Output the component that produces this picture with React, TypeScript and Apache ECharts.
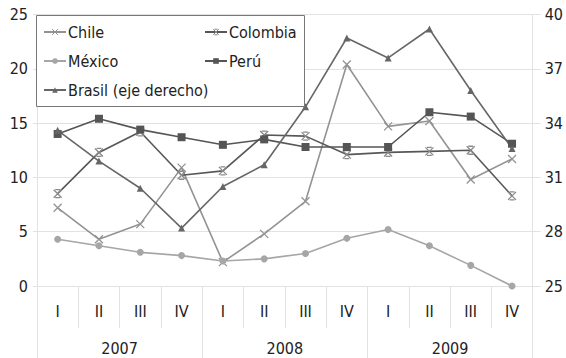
import React, { useEffect, useRef } from "react";
import * as echarts from "echarts";

const quarters = ["I", "II", "III", "IV", "I", "II", "III", "IV", "I", "II", "III", "IV"];
const years = ["2007", "2008", "2009"];
const chile = [7.2, 4.3, 5.7, 10.9, 2.2, 4.8, 7.8, 20.4, 14.7, 15.2, 9.8, 11.7];
const colombia = [8.5, 12.3, 14.2, 10.2, 10.6, 13.9, 13.8, 12.1, 12.3, 12.4, 12.5, 8.3];
const mexico = [4.3, 3.7, 3.1, 2.8, 2.3, 2.5, 3.0, 4.4, 5.2, 3.7, 1.9, 0.0];
const peru = [14.0, 15.4, 14.4, 13.7, 13.0, 13.5, 12.8, 12.8, 12.8, 16.0, 15.6, 13.1];
const brasil = [33.6, 31.9, 30.4, 28.2, 30.5, 31.7, 34.9, 38.7, 37.6, 39.2, 35.8, 32.6];

const FONT = "'Liberation Sans Narrow', 'DejaVu Sans Condensed', 'Noto Sans', sans-serif";
const TXT = "#222";
const GRID = "#e2e2e2";

const xSym = "path://M0,0L10,10M10,0L0,10";
const xBarSym = "path://M2,0L8,0M2,10L8,10M0,0L10,10M10,0L0,10";

export default function App() {
  const ref = useRef<HTMLDivElement>(null);
  useEffect(() => {
    if (!ref.current) return;
    const chart = echarts.init(ref.current, null, { renderer: "svg" });
    const lineSeries = (
      name: string,
      data: number[],
      color: string,
      symbol: string,
      size: number,
      yIdx = 0,
      strokeColor: string | null = null
    ) => ({
      name,
      type: "line",
      data,
      yAxisIndex: yIdx,
      symbol,
      symbolSize: size,
      showSymbol: true,
      lineStyle: { color, width: 1.6 },
      itemStyle: strokeColor
        ? { color: "rgba(0,0,0,0)", borderColor: strokeColor, borderWidth: 1.3 }
        : { color, borderColor: color, borderWidth: 0 },
      emphasis: { disabled: true },
    });
    const legendBase = {
      orient: "vertical",
      itemWidth: 22,
      itemHeight: 7,
      itemGap: 13,
      textStyle: { fontFamily: FONT, fontSize: 16, color: TXT, padding: [0, 0, 0, -3] },
      z: 20,
      selectedMode: false,
      padding: 0,
    };
    chart.setOption({
      animation: false,
      textStyle: { fontFamily: FONT },
      grid: { left: 37, right: 30, top: 14.5, bottom: 72, containLabel: false },
      graphic: {
        z: 10,
        elements: [
          {
            type: "rect",
            shape: { x: 36.5, y: 15.5, width: 268, height: 91 },
            style: { fill: "#fff", stroke: "#777", lineWidth: 1 },
            z: 10,
          },
        ],
      },
      legend: [
        {
          ...legendBase,
          left: 43,
          top: 24,
          data: [
            { name: "Chile", itemStyle: { color: "rgba(0,0,0,0)", borderColor: "#939393", borderWidth: 1 } },
            "México",
            "Brasil (eje derecho)",
          ],
        },
        {
          ...legendBase,
          left: 204,
          top: 24,
          data: [
            { name: "Colombia", itemStyle: { color: "rgba(0,0,0,0)", borderColor: "#8a8a8a", borderWidth: 1 } },
            "Perú",
          ],
        },
      ],
      xAxis: [
        {
          type: "category",
          data: quarters,
          position: "bottom",
          boundaryGap: true,
          axisLine: { show: true, lineStyle: { color: GRID } },
          axisTick: { show: true, interval: 0, length: 42, lineStyle: { color: GRID } },
          axisLabel: { interval: 0, margin: 17, fontSize: 16, color: TXT, fontFamily: FONT },
          splitLine: { show: false },
        },
        {
          type: "category",
          data: years,
          position: "bottom",
          boundaryGap: true,
          axisLine: { show: false },
          axisTick: { show: true, interval: 0, length: 80, lineStyle: { color: GRID } },
          axisLabel: { interval: 0, margin: 54, fontSize: 16, color: TXT, fontFamily: FONT },
          splitLine: { show: false },
        },
      ],
      yAxis: [
        {
          type: "value",
          min: 0,
          max: 25,
          interval: 5,
          axisLine: { show: true, lineStyle: { color: GRID } },
          axisTick: { show: true, length: 4, lineStyle: { color: GRID } },
          axisLabel: { margin: 9, fontSize: 16, color: TXT, fontFamily: FONT },
          splitLine: { show: true, lineStyle: { color: GRID, width: 1 } },
        },
        {
          type: "value",
          position: "right",
          min: 25,
          max: 40,
          interval: 3,
          axisLine: { show: true, lineStyle: { color: GRID } },
          axisTick: { show: true, length: 8, lineStyle: { color: GRID } },
          axisLabel: { margin: 12, fontSize: 16, color: TXT, fontFamily: FONT },
          splitLine: { show: false },
        },
      ],
      series: [
        lineSeries("Chile", chile, "#939393", xSym, 8, 0, "#939393"),
        lineSeries("Colombia", colombia, "#575757", xBarSym, 8, 0, "#8a8a8a"),
        lineSeries("México", mexico, "#a6a6a6", "circle", 7),
        lineSeries("Perú", peru, "#555555", "rect", 8),
        lineSeries("Brasil (eje derecho)", brasil, "#666666", "triangle", 7, 1),
      ],
    });
    return () => chart.dispose();
  }, []);
  return <div ref={ref} style={{ width: 566, height: 358, position: "absolute", left: 0, top: 0, background: "#fff" }} />;
}
